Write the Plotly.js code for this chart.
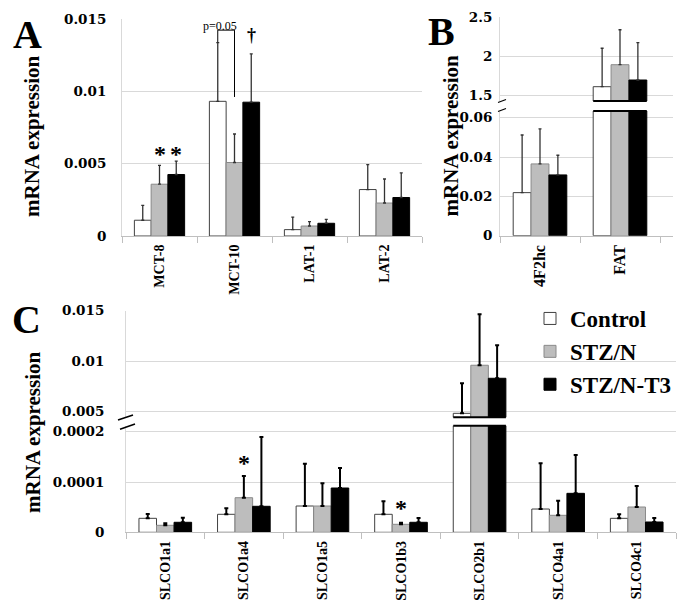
<!DOCTYPE html>
<html><head><meta charset="utf-8">
<script src="https://cdn.plot.ly/plotly-3.0.1.min.js"></script>
<style>html,body{margin:0;padding:0;background:#fff}</style>
</head><body><div id="chart" style="width:686px;height:611px"></div>
<script>
const groups = ["Control", "STZ/N", "STZ/N-T3"];

const catsA = ["MCT-8", "MCT-10", "LAT-1", "LAT-2"];
const controlA = [0.00109, 0.00931, 0.00044, 0.00321];
const controlAErr = [0.00103, 0.00406, 0.00087, 0.00173];
const stzA = [0.00358, 0.00508, 0.00069, 0.00228];
const stzAErr = [0.0013, 0.00197, 0.0003, 0.00166];
const t3A = [0.00425, 0.00925, 0.00088, 0.00266];
const t3AErr = [0.00092, 0.00334, 0.00027, 0.0017];

const catsB = ["4F2hc", "FAT"];
const controlB = [0.0219, 1.607];
const controlBErr = [0.0293, 0.495];
const stzB = [0.0365, 1.89];
const stzBErr = [0.0178, 0.45];
const t3B = [0.0309, 1.693];
const t3BErr = [0.0100, 0.48];

const catsC = ["SLCO1a1", "SLCO1a4", "SLCO1a5", "SLCO1b3", "SLCO2b1", "SLCO4a1", "SLCO4c1"];
const controlC = [2.78e-5, 3.58e-5, 5.23e-5, 3.58e-5, 0.00484, 4.63e-5, 2.78e-5];
const controlCErr = [0.86e-5, 1.2e-5, 8.4e-5, 2.6e-5, 0.00297, 9.1e-5, 0.8e-5];
const stzC = [1.39e-5, 6.88e-5, 5.23e-5, 1.59e-5, 0.0096, 3.38e-5, 5.03e-5];
const stzCErr = [0.4e-5, 4.3e-5, 4.5e-5, 0.32e-5, 0.00504, 2.9e-5, 4.2e-5];
const t3C = [1.99e-5, 5.17e-5, 8.81e-5, 1.99e-5, 0.00831, 7.75e-5, 2.05e-5];
const t3CErr = [0.9e-5, 1.38e-4, 4.0e-5, 0.85e-5, 0.00326, 7.6e-5, 0.8e-5];

// styling
const fills = ["#ffffff", "#bdbdbd", "#000000"];
const outlines = ["#404040", "#8a8a8a", "#000000"];
const W = 686, H = 611;
const BARGAP = 0.33;
const px = v => v / W;
const py = v => 1 - v / H;
const SERIF = "Liberation Serif, Times New Roman, serif";

function bar(x, y, err, i, xa, ya, thin, showlegend) {
  return {
    type: "bar", x: x, y: y, name: groups[i],
    xaxis: xa, yaxis: ya, showlegend: showlegend, legendgroup: groups[i],
    marker: {color: fills[i], line: {color: outlines[i], width: 1}},
    error_y: {type: "data", array: err, symmetric: false, arrayminus: err.map(() => 0),
      color: thin ? "#333333" : "#000000", thickness: thin ? 1.3 : 2, width: thin ? 1.5 : 2},
    hoverinfo: "skip"
  };
}

const valsA = [controlA, stzA, t3A], errA = [controlAErr, stzAErr, t3AErr];
const valsB = [controlB, stzB, t3B], errB = [controlBErr, stzBErr, t3BErr];
const valsC = [controlC, stzC, t3C], errC = [controlCErr, stzCErr, t3CErr];

const data = [];
for (let i = 0; i < 3; i++) data.push(bar(catsA, valsA[i], errA[i], i, "x", "y", true, false));
for (let i = 0; i < 3; i++) data.push(bar(catsB, valsB[i], errB[i], i, "x2", "y2", true, false));
for (let i = 0; i < 3; i++) data.push(bar(catsB, valsB[i], errB[i], i, "x2", "y3", true, false));
for (let i = 0; i < 3; i++) data.push(bar(catsC, valsC[i], errC[i], i, "x3", "y4", false, true));
for (let i = 0; i < 3; i++) data.push(bar(catsC, valsC[i], errC[i], i, "x3", "y5", false, false));

const tickFontY = {family: "DejaVu Serif", size: 13.5, color: "#000", weight: "bold"};
function yax(domain, range, dtick, anchor, standoff, extra) {
  return Object.assign({
    domain: domain, range: range, dtick: dtick, tick0: 0, anchor: anchor,
    showgrid: true, gridcolor: "#d9d9d9", gridwidth: 1,
    showline: true, linecolor: "#d9d9d9", linewidth: 1,
    zeroline: false, ticks: "", ticklabelstandoff: standoff,
    tickfont: tickFontY, fixedrange: true
  }, extra || {});
}
function xax(domain, range, anchor, size) {
  return {
    domain: domain, range: range, anchor: anchor, type: "category",
    showgrid: false, zeroline: false,
    showline: true, linecolor: "#bfbfbf", linewidth: 1,
    ticks: "outside", tickson: "boundaries", ticklen: 6, tickcolor: "#bfbfbf",
    tickangle: -90, ticklabelstandoff: 2,
    tickfont: {family: SERIF, size: size, color: "#000", weight: "bold"},
    fixedrange: true
  };
}

const half = (1 - BARGAP) / 2;
const bw = (1 - BARGAP) / 3;

function note(text, x, y, size, angle) {
  return {text: text, x: px(x), y: py(y), xref: "paper", yref: "paper",
    xanchor: "center", yanchor: "middle", showarrow: false, textangle: angle || 0,
    font: {family: SERIF, size: size, color: "#000", weight: "bold"}};
}
function mark(text, x, y, xr, yr, size, bold) {
  return {text: text, x: x, y: y, xref: xr, yref: yr, xanchor: "center", yanchor: "middle",
    showarrow: false, font: {family: SERIF, size: size, color: "#000", weight: bold ? "bold" : "normal"}};
}

const layout = {
  width: W, height: H,
  margin: {l: 0, r: 0, t: 0, b: 0},
  paper_bgcolor: "#fff", plot_bgcolor: "rgba(0,0,0,0)",
  barmode: "group", bargap: BARGAP, bargroupgap: 0,
  showlegend: true,
  legend: {
    x: px(530), y: py(297), xanchor: "left", yanchor: "top",
    bgcolor: "rgba(0,0,0,0)", traceorder: "grouped", tracegroupgap: 0,
    font: {family: SERIF, size: 23, color: "#000", weight: "bold"}
  },
  xaxis: xax([px(122), px(422)], [-0.5, 3.5], "y", 14),
  yaxis: yax([py(236), py(19)], [0, 0.015], 0.005, "x", 12),
  xaxis2: xax([px(500), px(673)], [-0.5, 1.6625], "y2", 16),
  yaxis2: yax([py(235.7), py(111)], [0, 0.0634], 0.02, "x2", 4),
  yaxis3: yax([py(101), py(17.3)], [1.4228, 2.5], 0.5, "x2", 4),
  xaxis3: xax([px(126), px(676)], [-0.5, 6.5], "y4", 14),
  yaxis4: yax([py(532.3), py(425.7)], [0, 0.000212], 0.0001, "x3", 18, {exponentformat: "none"}),
  yaxis5: yax([py(417.3), py(310.7)], [0.004446, 0.015], 0.005, "x3", 18),
  annotations: [
    note("A", 27, 34, 40),
    note("B", 441, 31, 40),
    note("C", 26, 319, 40),
    note("mRNA expression", 32, 136, 21, -90),
    note("mRNA expression", 451, 135.5, 21, -90),
    note("mRNA expression", 33, 432, 21, -90),
    // significance marks
    mark("*", 0, 0.0057, "x", "y", 24, true),
    mark("*", bw, 0.0057, "x", "y", 24, true),
    mark("†", 1 + bw, 0.0139, "x", "y", 18, true),
    mark("p=0.05", 1 - bw + 0.03, 0.01455, "x", "y", 12, false),
    mark("*", 1, 0.000137, "x3", "y4", 24, true),
    mark("*", 3, 0.000048, "x3", "y4", 24, true)
  ],
  shapes: [
    // p=0.05 bracket
    {type: "line", xref: "x", yref: "y", x0: 1 - bw, x1: 1 - bw, y0: 0.0134, y1: 0.01423, line: {color: "#000", width: 1}},
    {type: "line", xref: "x", yref: "y", x0: 1 - bw, x1: 1, y0: 0.01423, y1: 0.01423, line: {color: "#000", width: 1}},
    {type: "line", xref: "x", yref: "y", x0: 1, x1: 1, y0: 0.01423, y1: 0.00961, line: {color: "#000", width: 1}},
    // axis-break edges on the broken bars
    {type: "line", xref: "x2", yref: "y3 domain", x0: 1 - half, x1: 1 + half, y0: 0, y1: 0, line: {color: "#000", width: 2}},
    {type: "line", xref: "x2", yref: "y2 domain", x0: 1 - half, x1: 1 + half, y0: 1, y1: 1, line: {color: "#000", width: 2}},
    {type: "line", xref: "x3", yref: "y5 domain", x0: 4 - half, x1: 4 + half, y0: 0, y1: 0, line: {color: "#000", width: 2}},
    {type: "line", xref: "x3", yref: "y4 domain", x0: 4 - half, x1: 4 + half, y0: 1, y1: 1, line: {color: "#000", width: 2}},
    // break symbols on the y axes
    {type: "line", xref: "paper", yref: "paper", x0: px(498), x1: px(506), y0: py(102.5), y1: py(99.5), line: {color: "#000", width: 1.2}},
    {type: "line", xref: "paper", yref: "paper", x0: px(498), x1: px(506), y0: py(111.5), y1: py(108.5), line: {color: "#000", width: 1.2}},
    {type: "line", xref: "paper", yref: "paper", x0: px(118), x1: px(133), y0: py(420), y1: py(415), line: {color: "#000", width: 1.5}},
    {type: "line", xref: "paper", yref: "paper", x0: px(120), x1: px(135), y0: py(429.3), y1: py(424), line: {color: "#000", width: 1.5}}
  ]
};

Plotly.newPlot("chart", data, layout, {staticPlot: true, displayModeBar: false});
</script>
</body></html>
